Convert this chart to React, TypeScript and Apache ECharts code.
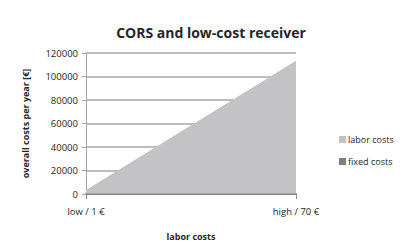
import React, { useEffect, useRef } from "react";
import * as echarts from "echarts";

const categories = ["low / 1 €", "high / 70 €"];
const fixedCosts = [500, 500];
const laborCosts = [3000, 112900];
const yTicks = { min: 0, max: 120000, interval: 20000 };

const FONT = "'Open Sans', 'Liberation Sans', sans-serif";

export default function App() {
  const ref = useRef<HTMLDivElement>(null);
  useEffect(() => {
    const chart = echarts.init(ref.current!, null, { renderer: "svg" });
    chart.setOption({
      animation: false,
      backgroundColor: "#ffffff",
      title: {
        text: "CORS and low-cost receiver",
        left: 206,
        top: 20,
        textAlign: "center",
        textStyle: { fontFamily: FONT, fontSize: 14, fontWeight: "bold", color: "#262626" },
      },
      legend: {
        orient: "vertical",
        left: 334,
        top: 130,
        itemWidth: 7,
        itemHeight: 7,
        itemGap: 13,
        icon: "rect",
        textStyle: { fontFamily: FONT, fontSize: 9, color: "#262626", padding: [0, 0, 0, -3] },
        data: ["labor costs", "fixed costs"],
      },
      grid: { left: 86, right: 122, top: 53, bottom: 53 },
      xAxis: {
        type: "category",
        data: categories,
        boundaryGap: false,
        name: "labor costs",
        nameLocation: "middle",
        nameGap: 38,
        nameTextStyle: { fontFamily: FONT, fontSize: 9, fontWeight: "bold", color: "#262626" },
        axisLine: { lineStyle: { color: "#888888", width: 2 } },
        axisTick: { length: 5, lineStyle: { color: "#888888" } },
        axisLabel: { fontFamily: FONT, fontSize: 9.5, color: "#262626", margin: 12 },
      },
      yAxis: {
        type: "value",
        min: yTicks.min,
        max: yTicks.max,
        interval: yTicks.interval,
        name: "overall costs per year [€]",
        nameLocation: "middle",
        nameGap: 56,
        nameRotate: 90,
        nameTextStyle: { fontFamily: FONT, fontSize: 9, fontWeight: "bold", color: "#262626" },
        axisLine: { show: true, lineStyle: { color: "#a6a6a6", width: 1 } },
        axisTick: { show: true, length: 4, lineStyle: { color: "#a6a6a6" } },
        axisLabel: {
          fontFamily: FONT,
          fontSize: 9.5,
          color: "#262626",
          margin: 8,
          formatter: (v: number) => String(v),
        },
        splitLine: { lineStyle: { color: "#a6a6a6", width: 1.5 } },
      },
      series: [
        {
          name: "fixed costs",
          type: "line",
          stack: "total",
          data: fixedCosts,
          symbol: "none",
          lineStyle: { width: 0 },
          itemStyle: { color: "#7f7f7f" },
          areaStyle: { color: "#7f7f7f", opacity: 1 },
        },
        {
          name: "labor costs",
          type: "line",
          stack: "total",
          data: laborCosts,
          symbol: "none",
          lineStyle: { width: 0 },
          itemStyle: { color: "#c3c3c6" },
          areaStyle: { color: "#c3c3c6", opacity: 1 },
        },
      ],
    });
    return () => chart.dispose();
  }, []);
  return <div ref={ref} style={{ width: 418, height: 247, position: "absolute", left: 0, top: 0 }} />;
}
